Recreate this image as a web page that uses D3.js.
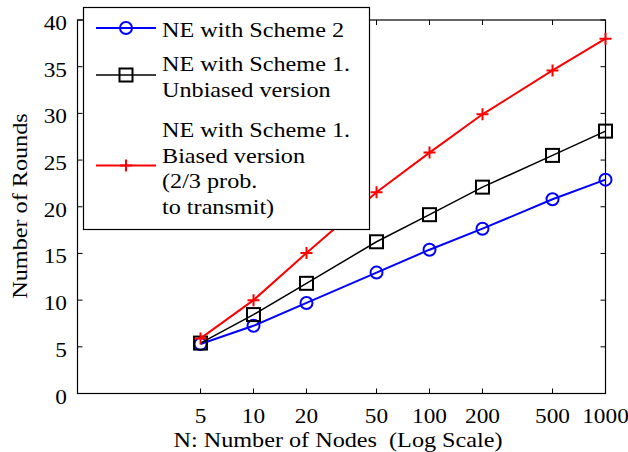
<!DOCTYPE html>
<html>
<head>
<meta charset="utf-8">
<script src="https://cdn.jsdelivr.net/npm/d3@7"></script>
<style>
  html, body { margin: 0; padding: 0; background: #fff; }
  svg { display: block; }
  text { font-family: "Liberation Serif", "DejaVu Serif", serif; fill: #000; }
</style>
</head>
<body>
<svg id="chart" width="628" height="452"></svg>
<script>
// Number of nodes (log axis) and rounds needed per scheme
const nodes = [5, 10, 20, 50, 100, 200, 500, 1000];
const scheme2 = [5.3, 7.25, 9.7, 12.95, 15.4, 17.65, 20.8, 22.9];
const scheme1Unbiased = [5.4, 8.45, 11.8, 16.25, 19.15, 22.1, 25.5, 28.1];
const scheme1Biased = [5.9, 10.0, 15.05, 21.55, 25.8, 29.9, 34.6, 38.0];

const xTicks = [5, 10, 20, 50, 100, 200, 500, 1000];
const yTicks = [0, 5, 10, 15, 20, 25, 30, 35, 40];

const series = [
  { name: ["NE with Scheme 2"], values: scheme2, color: "#0000ff", marker: "circle", width: 2 },
  { name: ["NE with Scheme 1.", "Unbiased version"], values: scheme1Unbiased, color: "#000000", marker: "square", width: 1.5 },
  { name: ["NE with Scheme 1.", "Biased version", "(2/3 prob.", "to transmit)"], values: scheme1Biased, color: "#ff0000", marker: "plus", width: 2 }
];

const svg = d3.select("#chart");
const margin = { left: 77.5, right: 22.5, top: 20, bottom: 58.5 };
const W = 628, H = 452;
const FS = 22;

const x = d3.scaleLog().domain([1, 1000]).range([margin.left, W - margin.right]);
const y = d3.scaleLinear().domain([0, 40]).range([H - margin.bottom, margin.top]);

// Text placed at (tx, ty), slightly widened horizontally
function label(sel, tx, ty, str, anchor, sx, rotate) {
  return sel.append("text")
    .attr("transform", `translate(${tx},${ty})${rotate ? " rotate(" + rotate + ")" : ""} scale(${sx},1)`)
    .attr("text-anchor", anchor || "start")
    .attr("font-size", FS)
    .attr("xml:space", "preserve")
    .text(str);
}

const g = svg.append("g");
const tickLen = 5;

// Frame with inward ticks on all four sides
const x0 = x.range()[0], x1 = x.range()[1], y0 = y.range()[0], y1 = y.range()[1];
g.append("rect").attr("x", x0).attr("y", y1).attr("width", x1 - x0).attr("height", y0 - y1)
  .attr("fill", "none").attr("stroke", "#000").attr("stroke-width", 1.2);

xTicks.forEach(t => {
  const px = x(t);
  g.append("line").attr("x1", px).attr("x2", px).attr("y1", y0).attr("y2", y0 - tickLen).attr("stroke", "#000");
  g.append("line").attr("x1", px).attr("x2", px).attr("y1", y1).attr("y2", y1 + tickLen).attr("stroke", "#000");
  label(g, px, y0 + 29, t, "middle", 1.06);
});
yTicks.forEach(t => {
  const py = y(t);
  g.append("line").attr("x1", x0).attr("x2", x0 + tickLen).attr("y1", py).attr("y2", py).attr("stroke", "#000");
  g.append("line").attr("x1", x1).attr("x2", x1 - tickLen).attr("y1", py).attr("y2", py).attr("stroke", "#000");
  label(g, x0 - 10.5, py + 10, t, "end", 1.06);
});

// Axis titles
label(svg, 338, 447, "N: Number of Nodes  (Log Scale)", "middle", 1.1);
label(svg, 27, 206, "Number of Rounds", "middle", 1.1, -90);

function drawMarker(sel, type, color, cx, cy) {
  if (type === "circle") {
    sel.append("circle").attr("cx", cx).attr("cy", cy).attr("r", 6)
      .attr("fill", "none").attr("stroke", color).attr("stroke-width", 2);
  } else if (type === "square") {
    sel.append("rect").attr("x", cx - 6.5).attr("y", cy - 6.5).attr("width", 13).attr("height", 13)
      .attr("fill", "none").attr("stroke", color).attr("stroke-width", 2);
  } else {
    sel.append("path").attr("d", `M${cx - 6},${cy}H${cx + 6}M${cx},${cy - 6}V${cy + 6}`)
      .attr("stroke", color).attr("stroke-width", 2).attr("fill", "none");
  }
}

// Series lines and markers
const line = d3.line().x(d => x(d[0])).y(d => y(d[1]));
series.forEach(s => {
  const pts = nodes.map((n, i) => [n, s.values[i]]);
  const sg = g.append("g");
  sg.append("path").attr("d", line(pts)).attr("fill", "none")
    .attr("stroke", s.color).attr("stroke-width", s.width);
  pts.forEach(p => drawMarker(sg, s.marker, s.color, x(p[0]), y(p[1])));
});

// Legend
const lg = svg.append("g");
lg.append("rect").attr("x", 83.5).attr("y", 7.5).attr("width", 286).attr("height", 222)
  .attr("fill", "#fff").attr("stroke", "#000").attr("stroke-width", 1.2);
const entryY = [28, 75, 165.5];
const textBase = [37, 71, 137];
const lineGap = 25.5;
series.forEach((s, i) => {
  const cy = entryY[i];
  lg.append("line").attr("x1", 96).attr("x2", 156).attr("y1", cy).attr("y2", cy)
    .attr("stroke", s.color).attr("stroke-width", s.width);
  drawMarker(lg, s.marker, s.color, 126, cy);
  s.name.forEach((t, j) => label(lg, 162, textBase[i] + j * lineGap, t, "start", 1.1));
});
</script>
</body>
</html>
